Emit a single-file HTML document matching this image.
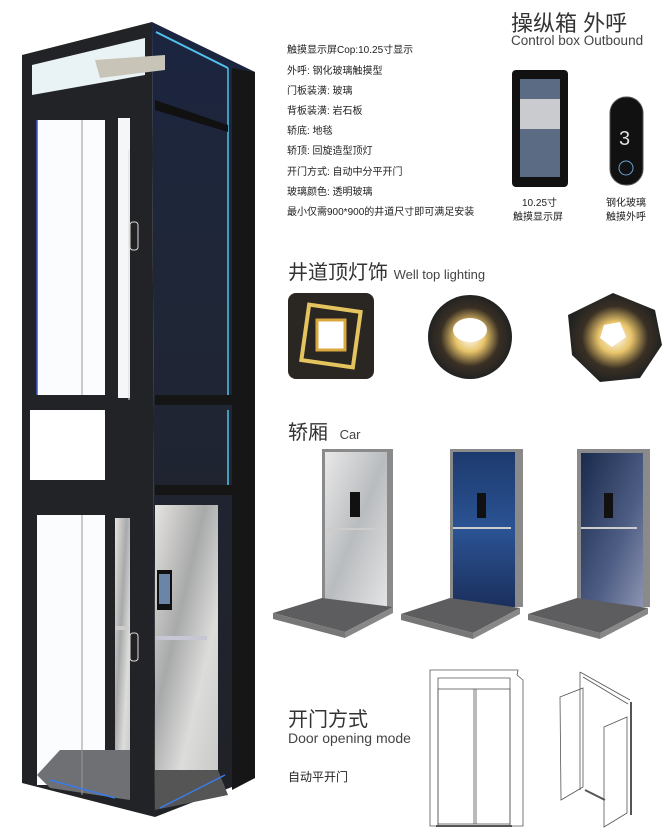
<!DOCTYPE html>
<html><head><meta charset="utf-8"><style>
body{margin:0;width:664px;height:834px;background:#fff;position:relative;overflow:hidden;font-family:"Liberation Sans","Noto Sans CJK SC",sans-serif;}
.t{position:absolute;white-space:nowrap;}
.spec{position:absolute;left:287px;font-size:10px;color:#222;line-height:10px}
</style></head><body>
<svg width="664" height="834" style="position:absolute;left:0;top:0">
<defs>
<linearGradient id="mar" x1="0" y1="0" x2="1" y2="1"><stop offset="0" stop-color="#e8e8e8"/><stop offset=".5" stop-color="#b9bcbf"/><stop offset="1" stop-color="#e4e4e4"/></linearGradient>
<linearGradient id="mar2" x1="0" y1="0" x2="1" y2="1"><stop offset="0" stop-color="#e6e4e0"/><stop offset=".4" stop-color="#a8a9aa"/><stop offset=".7" stop-color="#dcdcda"/><stop offset="1" stop-color="#c9c9c8"/></linearGradient>
<linearGradient id="blu" x1="0" y1="0" x2="0" y2="1"><stop offset="0" stop-color="#1d3a6e"/><stop offset=".5" stop-color="#2b5394"/><stop offset="1" stop-color="#1b2f5c"/></linearGradient>
<linearGradient id="sky" x1="0" y1="0" x2="1" y2="1"><stop offset="0" stop-color="#1a2a4c"/><stop offset=".6" stop-color="#4d5d84"/><stop offset="1" stop-color="#8c93b0"/></linearGradient>
<linearGradient id="side" x1="0" y1="0" x2="0" y2="1"><stop offset="0" stop-color="#1c2540"/><stop offset=".3" stop-color="#1f2638"/><stop offset="1" stop-color="#202226"/></linearGradient>
<radialGradient id="lamp" cx=".5" cy=".5" r=".5"><stop offset="0" stop-color="#fff"/><stop offset=".35" stop-color="#e8c46a"/><stop offset=".7" stop-color="#3a3024"/><stop offset="1" stop-color="#222"/></radialGradient>
</defs>
<!-- side dark -->
<polygon points="152,22 255,72 255,778 155,817" fill="url(#side)"/>
<polygon points="232,68 255,72 255,778 232,790" fill="#161616"/>
<rect x="155" y="505" width="63" height="265" fill="url(#mar2)"/>
<polygon points="155,770 218,770 228,795 155,810" fill="#555"/>
<line x1="228" y1="68" x2="228" y2="400" stroke="#4fc4e8" stroke-width="1.5"/>
<line x1="228" y1="410" x2="228" y2="490" stroke="#4fc4e8" stroke-width="1.5"/>
<line x1="156" y1="32" x2="228" y2="68" stroke="#4fc4e8" stroke-width="2"/>
<polygon points="155,100 228,125 228,132 155,110" fill="#111"/>
<rect x="155" y="395" width="77" height="10" fill="#151515"/>
<rect x="155" y="485" width="77" height="10" fill="#151515"/>
<!-- front -->
<polygon points="22,55 152,22 155,817 22,783" fill="#222326"/>
<polygon points="32,65 145,38 145,75 32,95" fill="#e9f3f5"/>
<polygon points="95,60 165,55 165,70 100,78" fill="#c8c4b8"/>
<rect x="37" y="120" width="68" height="275" fill="#fbfcfd"/>
<rect x="118" y="118" width="12" height="280" fill="#f4f6f8"/>
<rect x="30" y="410" width="75" height="70" fill="#fff"/>
<rect x="37" y="515" width="68" height="270" fill="#fbfcfd"/>
<rect x="115" y="518" width="15" height="265" fill="url(#mar2)"/>
<polygon points="37,775 60,750 130,750 130,800 50,788" fill="#6e7073"/>
<line x1="82" y1="120" x2="82" y2="395" stroke="#999" stroke-width="1"/>
<line x1="82" y1="515" x2="82" y2="795" stroke="#999" stroke-width="1"/>
<line x1="37" y1="120" x2="37" y2="395" stroke="#3b58d8" stroke-width="1.5"/>
<line x1="50" y1="780" x2="115" y2="798" stroke="#3b7be8" stroke-width="1.5"/>
<line x1="160" y1="808" x2="225" y2="775" stroke="#3b7be8" stroke-width="1.5"/>
<line x1="129" y1="150" x2="129" y2="400" stroke="#ddd" stroke-width="1"/>
<rect x="130" y="222" width="8" height="28" rx="3" fill="#222" stroke="#ddd"/>
<rect x="130" y="633" width="8" height="28" rx="3" fill="#222" stroke="#ddd"/>
<rect x="157" y="570" width="15" height="40" fill="#111"/>
<rect x="159" y="574" width="11" height="30" fill="#6b85a8"/>
<rect x="155" y="636" width="52" height="4" fill="#c7c6d4"/>
<rect x="115" y="626" width="14" height="4" fill="#ccc"/>
<!-- control box -->
<rect x="512" y="70" width="56" height="117" rx="4" fill="#111"/>
<rect x="520" y="79" width="40" height="98" fill="#5b6b83"/>
<rect x="520" y="99" width="40" height="30" fill="#c9cbcf"/>
<rect x="610" y="97" width="33" height="88" rx="16" fill="#111" stroke="#555"/>
<circle cx="626" cy="168" r="7" fill="none" stroke="#6aa0d8"/>
<text x="619" y="145" font-size="20" fill="#ddd" font-family="Liberation Sans">3</text>
<!-- lamps -->
<rect x="288" y="293" width="86" height="86" rx="8" fill="#2a2622"/>
<rect x="305" y="308" width="52" height="56" fill="none" stroke="#e4c45e" stroke-width="4" transform="rotate(8 331 336)"/>
<rect x="317" y="320" width="28" height="30" fill="#fff" stroke="#d9a93f" stroke-width="3"/>
<circle cx="470" cy="337" r="42" fill="url(#lamp)"/>
<ellipse cx="470" cy="330" rx="17" ry="12" fill="#fff"/>
<polygon points="613,293 655,310 662,345 640,378 600,382 572,355 568,315" fill="url(#lamp)"/>
<polygon points="604,325 620,322 626,337 612,347 600,338" fill="#fff"/>
<!-- cars -->
<g>
<rect x="322" y="449" width="71" height="158" fill="#8a8a8a"/><rect x="325" y="452" width="62" height="155" fill="url(#mar)"/>
<rect x="350" y="492" width="10" height="25" fill="#111"/><rect x="326" y="528" width="56" height="2" fill="#ccc"/>
<polygon points="273,613 322,598 393,607 345,632" fill="#5d5d5f"/><polygon points="273,613 345,632 345,638 273,619" fill="#777"/><polygon points="345,632 393,607 393,613 345,638" fill="#888"/>
</g>
<g>
<rect x="450" y="449" width="73" height="158" fill="#8a8a8a"/><rect x="453" y="452" width="62" height="155" fill="url(#blu)"/>
<rect x="477" y="493" width="9" height="25" fill="#111"/><rect x="453" y="527" width="58" height="2" fill="#ccc"/>
<polygon points="401,614 450,598 520,608 473,633" fill="#5d5d5f"/><polygon points="401,614 473,633 473,639 401,620" fill="#777"/><polygon points="473,633 520,608 520,614 473,639" fill="#888"/>
</g>
<g>
<rect x="577" y="449" width="73" height="158" fill="#8a8a8a"/><rect x="581" y="453" width="62" height="154" fill="url(#sky)"/>
<rect x="604" y="493" width="9" height="25" fill="#111"/><rect x="581" y="527" width="56" height="2" fill="#ccc"/>
<polygon points="528,614 577,598 648,608 600,633" fill="#5d5d5f"/><polygon points="528,614 600,633 600,639 528,620" fill="#777"/><polygon points="600,633 648,608 648,614 600,639" fill="#888"/>
</g>
<!-- door drawing -->
<g fill="none" stroke="#555" stroke-width="0.8">
<polygon points="430,670 518,670 517,675 523,680 523,826 510,826 510,678 438,678 438,826 430,826"/>
<rect x="438" y="689" width="72" height="135"/>
<line x1="474" y1="689" x2="474" y2="824"/><line x1="476" y1="689" x2="476" y2="824"/>
<line x1="436" y1="826" x2="512" y2="826" stroke-width="2"/>
<polygon points="560,697 583,688 583,787 561,800"/>
<polygon points="604,727 627,717 627,813 604,827"/>
<line x1="580" y1="672" x2="630" y2="700"/><line x1="583" y1="677" x2="628" y2="704"/>
<line x1="631" y1="702" x2="631" y2="815" stroke-width="2"/>
<line x1="580" y1="672" x2="580" y2="790"/>
<line x1="585" y1="790" x2="605" y2="800" stroke-width="2"/>
</g>
</svg>
<div class="t" style="left:511px;top:6px;font-size:22px;color:#333">操纵箱 外呼</div>
<div class="t" style="left:511px;top:33px;font-size:13.5px;color:#444">Control box Outbound</div>
<div class="spec" style="top:46px">触摸显示屏Cop:10.25寸显示</div>
<div class="spec" style="top:67px">外呼: 钢化玻璃触摸型</div>
<div class="spec" style="top:87px">门板装潢: 玻璃</div>
<div class="spec" style="top:107px">背板装潢: 岩石板</div>
<div class="spec" style="top:127px">轿底: 地毯</div>
<div class="spec" style="top:147px">轿顶: 回旋造型顶灯</div>
<div class="spec" style="top:168px">开门方式: 自动中分平开门</div>
<div class="spec" style="top:188px">玻璃颜色: 透明玻璃</div>
<div class="spec" style="top:208px">最小仅需900*900的井道尺寸即可满足安装</div>
<div class="t" style="left:522px;top:194px;font-size:10px;color:#222">10.25寸</div>
<div class="t" style="left:513px;top:208px;font-size:10px;color:#222">触摸显示屏</div>
<div class="t" style="left:606px;top:194px;font-size:10px;color:#222">钢化玻璃</div>
<div class="t" style="left:606px;top:208px;font-size:10px;color:#222">触摸外呼</div>
<div class="t" style="left:288px;top:256px;font-size:20px;color:#333">井道顶灯饰 <span style="font-size:13px;color:#444">Well top lighting</span></div>
<div class="t" style="left:288px;top:416px;font-size:20px;color:#333">轿厢 <span style="font-size:13px;color:#444;margin-left:6px">Car</span></div>
<div class="t" style="left:288px;top:703px;font-size:20px;color:#333">开门方式</div>
<div class="t" style="left:288px;top:730px;font-size:14px;color:#444">Door opening mode</div>
<div class="t" style="left:288px;top:768px;font-size:12px;color:#222">自动平开门</div>
</body></html>
